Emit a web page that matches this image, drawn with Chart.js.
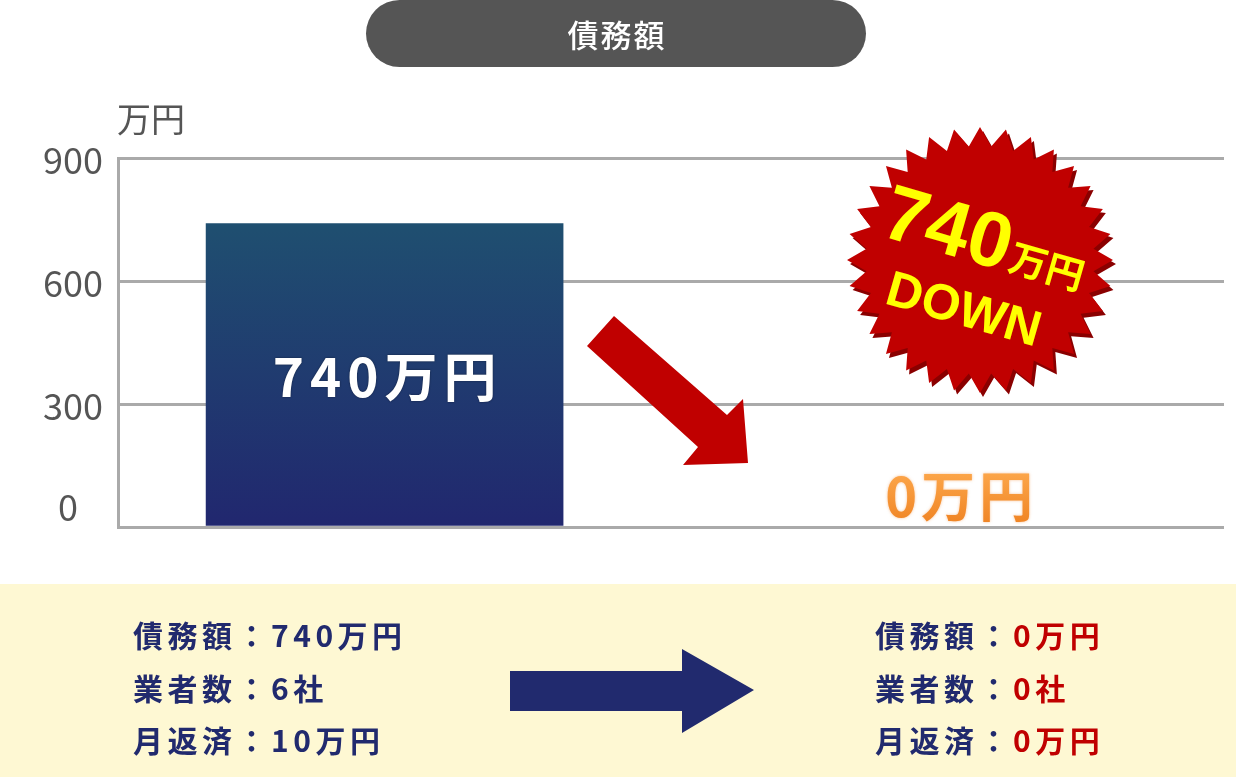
<!DOCTYPE html>
<html lang="ja">
<head>
<meta charset="utf-8">
<title>債務額</title>
<script src="https://cdn.jsdelivr.net/npm/chart.js@4.4.1/dist/chart.umd.min.js"></script>
<style>
  html, body { margin: 0; padding: 0; background: #fff; }
  #wrap { position: relative; width: 1236px; height: 777px; }
</style>
</head>
<body>
<div id="wrap"><canvas id="debtChart"></canvas></div>
<script>
// ── data ──────────────────────────────────────────────
const categories  = ['整理前', '整理後'];
const debtValues  = [740, 0];
const valueLabels = ['740万円', '0万円'];
const yTicks      = [0, 300, 600, 900];
const unitLabel   = '万円';
const chartTitle  = '債務額';
const badgeAmount = '740';
const badgeUnit   = '万円';
const badgeWord   = 'DOWN';
const rowLabels   = ['債務額', '業者数', '月返済'];
const beforeRows  = ['740万円', '6社', '10万円'];
const afterRows   = ['0万円', '0社', '0万円'];

const JP   = '"Noto Sans CJK JP", "Noto Sans", sans-serif';
const NAVY = '#212a6e';
const RED  = '#c00000';

// ── helpers ───────────────────────────────────────────
function roundPill(c, x, y, w, h) {
    const r = h / 2;
    c.beginPath();
    c.moveTo(x + r, y);
    c.lineTo(x + w - r, y);
    c.arc(x + w - r, y + r, r, -Math.PI / 2, Math.PI / 2);
    c.lineTo(x + r, y + h);
    c.arc(x + r, y + r, r, Math.PI / 2, Math.PI * 1.5);
    c.closePath();
}

function starPath(c, cx, cy, rOut, rIn, n) {
    c.beginPath();
    for (let i = 0; i < n * 2; i++) {
        const r = i % 2 ? rIn : rOut;
        const a = -Math.PI / 2 + i * Math.PI / n;
        c.lineTo(cx + r * Math.cos(a), cy + r * Math.sin(a));
    }
    c.closePath();
}

function poly(c, pts, color) {
    c.beginPath();
    pts.forEach(function (p, i) { i ? c.lineTo(p[0], p[1]) : c.moveTo(p[0], p[1]); });
    c.closePath();
    c.fillStyle = color;
    c.fill();
}

// ── decorations plugin ────────────────────────────────
const decor = {
    id: 'decor',
    beforeDraw(chart) {
        const c = chart.ctx;
        c.save();
        // title pill
        roundPill(c, 366, 0, 500, 67);
        c.fillStyle = '#555555';
        c.fill();
        c.fillStyle = '#ffffff';
        c.font = '500 31px ' + JP;
        c.textAlign = 'center';
        c.textBaseline = 'middle';
        c.letterSpacing = '2px';
        c.fillText(chartTitle, 617, 35);
        c.letterSpacing = '0px';

        // unit
        c.fillStyle = '#555555';
        c.font = '400 34px ' + JP;
        c.textAlign = 'left';
        c.fillText(unitLabel, 117, 119);

        // bottom panel
        c.fillStyle = '#fef8d3';
        c.fillRect(0, 584, chart.width, chart.height - 584);
        c.restore();
    },
    afterDatasetsDraw(chart) {
        const c = chart.ctx;
        const s = chart.scales.y;
        c.save();
        // y tick labels
        c.font = '400 36px ' + JP;
        c.fillStyle = '#555555';
        c.textAlign = 'center';
        c.textBaseline = 'middle';
        s.ticks.forEach(function (t) {
            const y = s.getPixelForValue(t.value);
            if (t.value === 0) c.fillText('0', s.right - 50, y - 20);
            else c.fillText(String(t.value), s.right - 45, y + 2);
        });

        // value labels
        const meta = chart.getDatasetMeta(0);
        meta.data.forEach(function (bar, i) {
            if (debtValues[i] > 0) {
                c.font = '700 53px ' + JP;
                c.letterSpacing = '6px';
                c.fillStyle = '#ffffff';
                c.shadowColor = 'rgba(0,0,0,0.5)';
                c.shadowBlur = 2;
                c.fillText(valueLabels[i], bar.x + 3, (bar.y + bar.base) / 2 + 2);
                c.shadowBlur = 0;
            } else {
                c.font = '700 54px ' + JP;
                c.letterSpacing = '4px';
                const g = c.createLinearGradient(0, bar.base - 58, 0, bar.base - 6);
                g.addColorStop(0, '#fda84c');
                g.addColorStop(1, '#f08626');
                c.fillStyle = g;
                c.shadowColor = 'rgba(240,130,40,0.5)';
                c.shadowBlur = 3;
                c.fillText(valueLabels[i], bar.x + 2, bar.base - 31);
                c.shadowBlur = 0;
            }
        });
        c.letterSpacing = '0px';
        c.restore();
    },
    afterDraw(chart) {
        const c = chart.ctx;
        c.save();
        // red arrow
        poly(c, [[587, 346], [614, 316], [727, 415], [743, 399], [748, 463], [683, 465], [698, 447]], RED);

        // burst badge
        starPath(c, 983, 264, 133, 114, 32);
        c.fillStyle = '#8a0000';
        c.fill();
        starPath(c, 980, 260, 133, 114, 32);
        c.fillStyle = RED;
        c.fill();

        c.translate(980, 260);
        c.rotate(16 * Math.PI / 180);
        c.fillStyle = '#ffff00';
        c.textBaseline = 'alphabetic';
        c.textAlign = 'left';
        c.font = '700 78px "Liberation Sans", Arial, sans-serif';
        const w1 = c.measureText(badgeAmount).width;
        c.font = '700 38px ' + JP;
        const w2 = c.measureText(badgeUnit).width;
        const x0 = -(w1 + w2 + 2) / 2;
        c.font = '700 78px "Liberation Sans", Arial, sans-serif';
        c.fillText(badgeAmount, x0, 4);
        c.font = '700 38px ' + JP;
        c.fillText(badgeUnit, x0 + w1 + 2, 2);
        c.font = '700 50px "Liberation Sans", Arial, sans-serif';
        c.textAlign = 'center';
        c.fillText(badgeWord, -2, 68);
        c.setTransform(chart.currentDevicePixelRatio, 0, 0, chart.currentDevicePixelRatio, 0, 0);

        // panel text
        c.font = '700 30px ' + JP;
        c.textBaseline = 'middle';
        c.textAlign = 'left';
        c.letterSpacing = '4.5px';
        const rowsY = [636, 689, 741];
        rowLabels.forEach(function (lab, i) {
            const head = lab + '：';
            const hw = c.measureText(head).width;
            c.fillStyle = NAVY;
            c.fillText(head, 133, rowsY[i]);
            c.fillText(beforeRows[i], 133 + hw, rowsY[i]);
            c.fillText(head, 875, rowsY[i]);
            c.fillStyle = RED;
            c.fillText(afterRows[i], 875 + hw, rowsY[i]);
        });
        c.letterSpacing = '0px';

        // navy arrow
        poly(c, [[510, 671], [682, 671], [682, 649], [754, 690], [682, 733], [682, 711], [510, 711]], NAVY);
        c.restore();
    }
};

// ── chart ─────────────────────────────────────────────
new Chart(document.getElementById('debtChart'), {
    type: 'bar',
    data: {
        labels: categories,
        datasets: [{
            data: debtValues.map(function (v, i) { return { x: i, y: v }; }),
            barThickness: 357,
            borderWidth: 0,
            backgroundColor(ctx) {
                const chart = ctx.chart;
                if (!chart.chartArea || !debtValues[ctx.dataIndex]) return 'rgba(0,0,0,0)';
                const top = chart.scales.y.getPixelForValue(Math.max.apply(null, debtValues));
                const g = chart.ctx.createLinearGradient(0, top, 0, chart.chartArea.bottom);
                g.addColorStop(0, '#1f4f70');
                g.addColorStop(1, '#21276f');
                return g;
            },
        }],
    },
    options: {
        responsive: true,
        maintainAspectRatio: false,
        animation: false,
        layout: { padding: { top: 158, right: 12, bottom: 250, left: 0 } },
        plugins: { legend: { display: false }, tooltip: { enabled: false } },
        scales: {
            x: { type: 'linear', min: -0.464, max: 1.461, offset: false, display: false },
            y: {
                min: 0,
                max: 900,
                afterBuildTicks(s) { s.ticks = yTicks.map(function (v) { return { value: v }; }); },
                afterFit(s) { s.width = 118; },
                ticks: { display: false },
                grid: { color: '#aaaaaa', lineWidth: 3, drawTicks: false },
                border: { display: true, color: '#aaaaaa', width: 3 },
            },
        },
    },
    plugins: [decor],
});
</script>
</body>
</html>
